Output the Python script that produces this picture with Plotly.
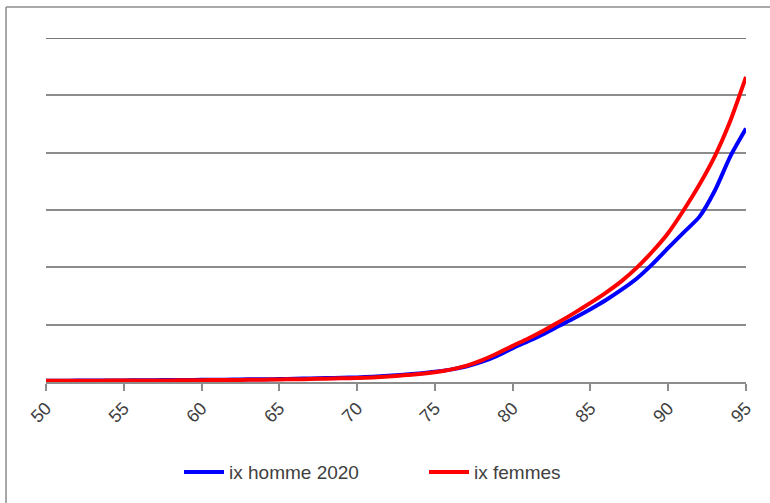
import plotly.graph_objects as go

# Ages (x axis) and the two series
ages = list(range(50, 96))

ix_homme_2020 = [
    0.0011, 0.0011, 0.0012, 0.0012, 0.0013, 0.0014, 0.0015, 0.0016, 0.0017, 0.0018,
    0.0019, 0.0020, 0.0021, 0.0023, 0.0024, 0.0026, 0.0028, 0.0031, 0.0034, 0.0037,
    0.0040, 0.0046, 0.0054, 0.0064, 0.0075, 0.0089, 0.0108, 0.0135, 0.0175, 0.0228,
    0.0295, 0.0355, 0.0420, 0.0490, 0.0560, 0.0635, 0.0715, 0.0805, 0.0905, 0.1030,
    0.1170, 0.1305, 0.1440, 0.1670, 0.1970, 0.2210,
]

ix_femmes = [
    0.0010, 0.0010, 0.0011, 0.0011, 0.0012, 0.0012, 0.0013, 0.0014, 0.0014, 0.0015,
    0.0016, 0.0017, 0.0018, 0.0019, 0.0020, 0.0022, 0.0024, 0.0026, 0.0029, 0.0032,
    0.0035, 0.0040, 0.0048, 0.0058, 0.0070, 0.0085, 0.0108, 0.0140, 0.0188, 0.0248,
    0.0315, 0.0380, 0.0450, 0.0525, 0.0605, 0.0690, 0.0780, 0.0880, 0.1000, 0.1140,
    0.1300, 0.1500, 0.1720, 0.1970, 0.2280, 0.2660,
]

tick_values = list(range(50, 96, 5))
tick_labels = [str(v) for v in tick_values]

fig = go.Figure()
fig.add_trace(go.Scatter(
    x=ages, y=ix_homme_2020, mode="lines", name="ix homme 2020",
    line=dict(color="#0000FF", width=4, shape="spline", smoothing=0.6),
))
fig.add_trace(go.Scatter(
    x=ages, y=ix_femmes, mode="lines", name="ix femmes",
    line=dict(color="#FF0000", width=4, shape="spline", smoothing=0.6),
))

grey = "#8C8C8C"
fig.update_layout(
    width=770, height=503,
    margin=dict(l=46, r=24, t=38, b=121),
    paper_bgcolor="white", plot_bgcolor="white",
    font=dict(family="Liberation Sans, Arial, sans-serif", color="#404040"),
    xaxis=dict(
        range=[50, 95], tickvals=tick_values, ticktext=tick_labels,
        tickangle=-45, tickfont=dict(size=18, color="#404040"),
        showgrid=False, zeroline=False,
        showline=True, linecolor=grey, linewidth=1.5,
        ticks="outside", ticklen=7, tickcolor=grey, tickwidth=1.5,
    ),
    yaxis=dict(
        range=[0, 0.3], dtick=0.05, showticklabels=False,
        showgrid=True, gridcolor=grey, gridwidth=1.5,
        zeroline=False, showline=False, ticks="",
    ),
    legend=dict(
        orientation="h", x=0.54, y=-0.262, xanchor="center", yanchor="middle",
        font=dict(size=19, color="#404040"), itemwidth=40,
        entrywidth=190, entrywidthmode="pixels",
        bgcolor="rgba(0,0,0,0)",
    ),
    showlegend=True,
    shapes=[
        # top gridline at the upper edge of the plot
        dict(type="line", xref="paper", yref="y",
             x0=0, x1=1, y0=0.3, y1=0.3, layer="between",
             line=dict(color="#7A7A7A", width=2)),
        # outer chart frame (left and top edges)
        dict(type="line", xref="paper", yref="paper",
             x0=-0.0571, x1=-0.0571, y0=-0.4, y1=1.09,
             line=dict(color=grey, width=1.5)),
        dict(type="line", xref="paper", yref="paper",
             x0=-0.0571, x1=1.1, y0=1.09, y1=1.09,
             line=dict(color=grey, width=1.5)),
    ],
)

fig.write_html("out.html")
